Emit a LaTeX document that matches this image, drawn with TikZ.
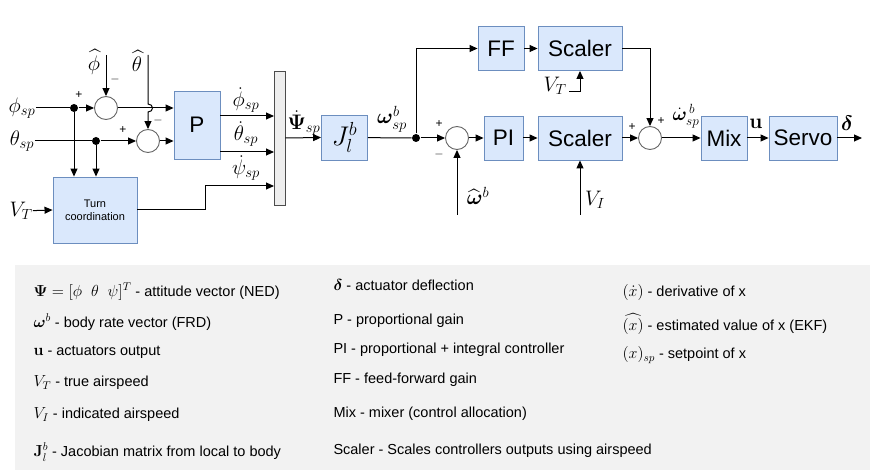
\RequirePackage{fix-cm}
\documentclass[tikz,border=0pt]{standalone}
\usepackage{amsmath,amssymb,bm}
\usepackage[no-math]{fontspec}
\setmainfont{Liberation Sans}
\usetikzlibrary{arrows.meta,positioning,calc}

\definecolor{boxfill}{HTML}{DAE8FC}
\definecolor{boxline}{HTML}{6C8EBF}
\definecolor{muxfill}{HTML}{EEEEEE}
\definecolor{legbg}{HTML}{F2F2F2}
\newcommand{\fsz}[1]{\fontsize{#1}{#1}\selectfont}
\newcommand{\lm}[1]{{\fsz{16}$#1$}}

\begin{document}
\begin{tikzpicture}[
  x=1pt, y=-1pt,
  line width=1pt,
  blk/.style={draw=boxline, fill=boxfill, line width=0.9pt, inner sep=0pt, font=\fsz{22.5}},
  sum/.style={circle, draw=black!60, fill=white, line width=0.9pt, minimum size=23pt, inner sep=0pt},
  dot/.style={circle, fill=black, inner sep=0pt, minimum size=8pt},
  lbl/.style={inner sep=0pt, font=\fsz{21}},
  sgn/.style={inner sep=0pt, font=\fsz{12}},
  leg/.style={anchor=west, inner sep=0pt, font=\fsz{14.5}},
  ar/.style={-{Triangle[length=8pt,width=7pt]}}
]
\useasboundingbox (0,0) rectangle (892,473);
\fill[legbg] (15,265) rectangle (870,470);

% attitude loop
\node[lbl] (phisp) at (22,108) {$\phi_{sp}$};
\node[lbl] (thsp) at (22,141) {$\theta_{sp}$};
\node[dot] (j1) at (74,108) {};
\node[dot] (j2) at (96,141) {};
\node[sum] (sumphi) at (106,108) {};
\node[sum] (sumth) at (148,141) {};
\coordinate (phhat) at (106,55);
\coordinate (thhat) at (148,55);
\node[lbl] (phhatl) at (94,62) {$\widehat{\phi}$};
\node[lbl] (thhatl) at (137,61) {$\widehat{\theta}$};
\node[sgn] at (79,95) {+};
\node[sgn] at (115,80) {$-$};
\node[sgn] at (123,130) {+};
\node[sgn] at (158,121) {$-$};
\node[blk, minimum width=46pt, minimum height=68pt] (P) at (197,125) {P};
\node[blk, minimum width=84pt, minimum height=66pt, font=\fsz{11}, align=center] (tc) at (95,210)
      {Turn\\[2pt]coordination};
\node[lbl] (vt1) at (21,211) {$V_T$};
\node[draw=black!70, fill=muxfill, line width=0.9pt, minimum width=11pt, minimum height=134pt,
      inner sep=0pt] (mux) at (279.5,138) {};
\coordinate (m1) at (274,116);
\coordinate (m2) at (274,152);
\coordinate (m3) at (274,186);
\node[lbl] at (246,100) {$\dot{\phi}_{sp}$};
\node[lbl] at (246,134) {$\dot{\theta}_{sp}$};
\node[lbl] at (246,168) {$\dot{\psi}_{sp}$};

\draw (phisp) -- (j1);
\draw[ar] (j1) -- (sumphi);
\draw (thsp) -- (j2);
\draw[ar] (j2) -- (sumth);
\draw[ar] (phhat) -- (sumphi.north);
\draw[ar] (thhat) -- (148,104) .. controls (154,104) and (154,112) .. (148,112) -- (sumth.north);
\draw[ar] (sumphi.east) -- (sumphi.east -| P.west);
\draw[ar] (sumth.east) -- (sumth.east -| P.west);
\draw[ar] (j1) -- (j1 |- tc.north);
\draw[ar] (j2) -- (j2 |- tc.north);
\draw[ar] (vt1) -- (tc.west);
\draw[ar] (P.east |- m1) -- (m1);
\draw[ar] (P.east |- m2) -- (m2);
\draw[ar] (tc.east) -- ++(68pt,0) |- (m3);

% rate loop
\node[blk, minimum width=46pt, minimum height=45pt, font=\fsz{27}] (jac) at (344.5,137.5) {$J_l^b$};
\node[lbl] at (304,123) {$\dot{\boldsymbol{\Psi}}_{sp}$};
\node[dot] (j3) at (416,138) {};
\node[lbl] at (392,119) {$\boldsymbol{\omega}^b_{sp}$};
\node[sum] (sumw) at (457,138) {};
\node[sgn] at (439,124) {+};
\node[sgn] at (439,155) {$-$};
\coordinate (what) at (457,215);
\node[lbl] at (478,196) {$\widehat{\boldsymbol{\omega}}^{b}$};
\node[blk, minimum width=46pt, minimum height=44pt] (FF) at (501,48.5) {FF};
\node[blk, minimum width=84pt, minimum height=44pt] (scal1) at (580,48.5) {Scaler};
\node[blk, minimum width=39pt, minimum height=44pt] (PI) at (503.5,138) {PI};
\node[blk, minimum width=84pt, minimum height=44pt] (scal2) at (580,138) {Scaler};
\coordinate (vt2) at (569,92);
\node[lbl] at (555,86) {$V_T$};
\coordinate (vi) at (580,215);
\node[lbl] at (595,200) {$V_I$};
\node[sum] (sumout) at (650,138) {};
\node[sgn] at (632,127) {+};
\node[sgn] at (661,121) {+};
\node[lbl, font=\fsz{19}] at (686,116) {$\dot{\boldsymbol{\omega}}^{\,b}_{sp}$};
\node[blk, minimum width=46pt, minimum height=44pt] (mix) at (724,138) {Mix};
\node[blk, minimum width=68pt, minimum height=44pt] (servo) at (803,138) {Servo};
\node[lbl] at (756,124) {$\mathbf{u}$};
\node[lbl] at (847,123) {$\boldsymbol{\delta}$};
\coordinate (out) at (862,138);

\draw[ar] (mux.east) -- (jac.west);
\draw (jac) -- (j3);
\draw[ar] (j3) -- (sumw);
\draw[ar] (j3) |- (FF.west);
\draw[ar] (what) -- (sumw.south);
\draw[ar] (FF) -- (scal1);
\draw[ar] (sumw) -- (PI);
\draw[ar] (PI) -- (scal2);
\draw[ar] (vt2) -| (scal1.south);
\draw[ar] (vi) -- (scal2.south);
\draw[ar] (scal1.east) -| (sumout.north);
\draw[ar] (scal2) -- (sumout);
\draw[ar] (sumout) -- (mix);
\draw[ar] (mix) -- (servo);
\draw[ar] (servo) -- (out);

% legend
\node[leg] (lg1) at (33,292) {\lm{\boldsymbol{\Psi}=[\phi\ \ \theta\ \ \psi]^T} - attitude vector (NED)};
\node[leg] (lg2) at (33,322) {\lm{\boldsymbol{\omega}^b} - body rate vector (FRD)};
\node[leg] (lg3) at (33,352) {\lm{\mathbf{u}} - actuators output};
\node[leg] (lg4) at (33,383) {\lm{V_T} - true airspeed};
\node[leg] (lg5) at (33,415) {\lm{V_I} - indicated airspeed};
\node[leg] (lg6) at (33,452) {\lm{\mathbf{J}_l^b} - Jacobian matrix from local to body};
\node[leg] (lg7) at (333,285) {\lm{\boldsymbol{\delta}} - actuator deflection};
\node[leg] (lg8) at (333,321) {P - proportional gain};
\node[leg] (lg9) at (333,350) {PI - proportional + integral controller};
\node[leg] (lg10) at (333,380) {FF - feed-forward gain};
\node[leg] (lg11) at (333,414) {Mix - mixer (control allocation)};
\node[leg] (lg12) at (333,451) {Scaler - Scales controllers outputs using airspeed};
\node[leg] (lg13) at (622,292) {\lm{(\dot{x})} - derivative of x};
\node[leg] (lg14) at (622,324) {\lm{\widehat{(x)}} - estimated value of x (EKF)};
\node[leg] (lg15) at (622,355) {\lm{(x)_{sp}} - setpoint of x};
\end{tikzpicture}
\end{document}
